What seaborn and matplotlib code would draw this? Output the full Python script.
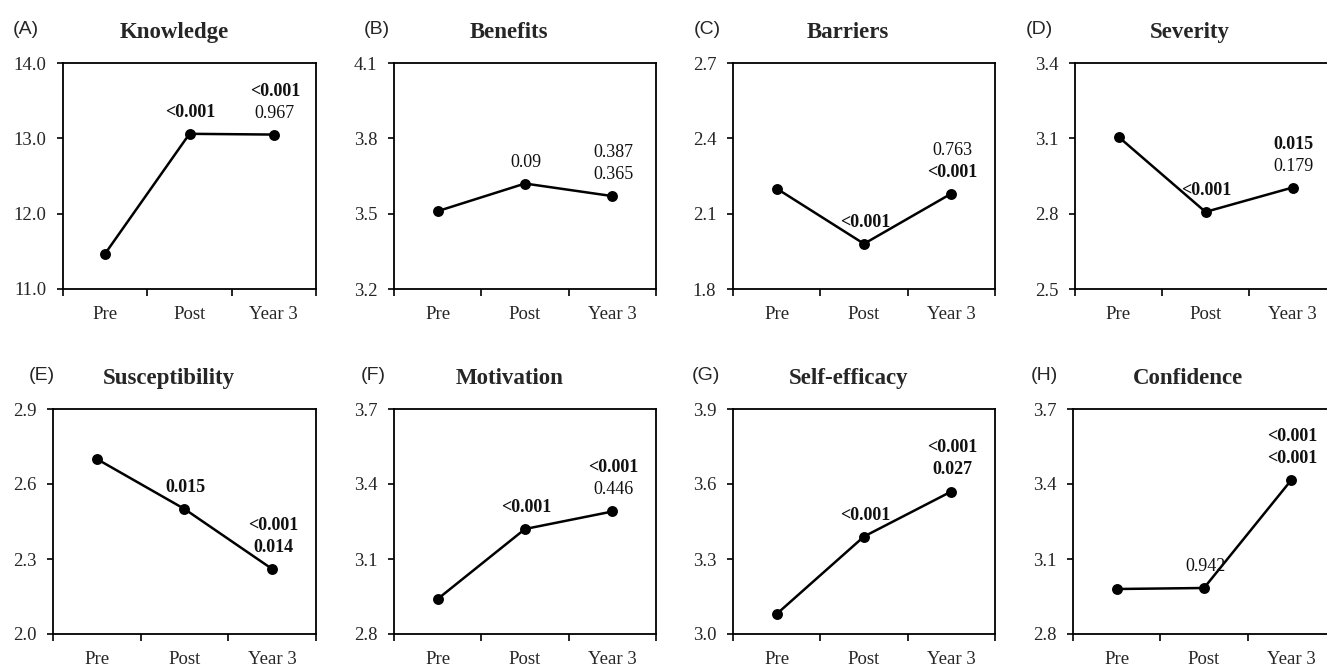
import pandas as pd
import matplotlib
matplotlib.use("Agg")
import matplotlib.pyplot as plt
import seaborn as sns

sns.set_theme(style="white")
plt.rcParams["font.family"] = ["Liberation Serif", "DejaVu Serif"]

timepoints = ["Pre", "Post", "Year 3"]
panel_tags = ["(A)", "(B)", "(C)", "(D)", "(E)", "(F)", "(G)", "(H)"]
titles = ["Knowledge", "Benefits", "Barriers", "Severity",
          "Susceptibility", "Motivation", "Self-efficacy", "Confidence"]

knowledge = [11.47, 13.06, 13.05]
benefits = [3.51, 3.62, 3.57]
barriers = [2.20, 1.98, 2.18]
severity = [3.106, 2.807, 2.904]
susceptibility = [2.70, 2.50, 2.26]
motivation = [2.94, 3.22, 3.29]
self_efficacy = [3.08, 3.39, 3.57]
confidence = [2.98, 2.984, 3.416]

y_ranges = [(11.0, 14.0, 1.0), (3.2, 4.1, 0.3), (1.8, 2.7, 0.3), (2.5, 3.4, 0.3),
            (2.0, 2.9, 0.3), (2.8, 3.7, 0.3), (3.0, 3.9, 0.3), (2.8, 3.7, 0.3)]

# p-value labels at Post and Year 3: list of (text, bold) lines
post_p = [
    [("<0.001", True)],
    [("0.09", False)],
    [("<0.001", True)],
    [("<0.001", True)],
    [("0.015", True)],
    [("<0.001", True)],
    [("<0.001", True)],
    [("0.942", False)],
]
year3_p = [
    [("<0.001", True), ("0.967", False)],
    [("0.387", False), ("0.365", False)],
    [("0.763", False), ("<0.001", True)],
    [("0.015", True), ("0.179", False)],
    [("<0.001", True), ("0.014", True)],
    [("<0.001", True), ("0.446", False)],
    [("<0.001", True), ("0.027", True)],
    [("<0.001", True), ("<0.001", True)],
]

series = [knowledge, benefits, barriers, severity,
          susceptibility, motivation, self_efficacy, confidence]

W, H = 1327, 668
fig = plt.figure(figsize=(W / 100, H / 100), dpi=100)

lefts_top = [63, 394, 733, 1075]
lefts_bot = [53, 394, 733, 1073]
widths_top = [253, 262, 262, 261]
widths_bot = [263, 262, 262, 262]
tag_x_top = [13, 364, 694, 1026]
tag_x_bot = [29, 361, 692, 1031]


def add_label(ax, x, y, lines, dy):
    # stack lines upward from the point, bottom line first
    n = len(lines)
    for k, (txt, bold) in enumerate(lines):
        offset = dy + (n - 1 - k) * 22
        ax.annotate(txt, (x, y), xytext=(1, offset), textcoords="offset pixels",
                    ha="center", va="bottom", fontsize=13,
                    fontweight="bold" if bold else "normal", color="#111111")


for i in range(8):
    row, col = divmod(i, 4)
    if row == 0:
        left, width, top, bottom = lefts_top[col], widths_top[col], 63, 289
        tag_x = tag_x_top[col]
    else:
        left, width, top, bottom = lefts_bot[col], widths_bot[col], 409, 634
        tag_x = tag_x_bot[col]
    ax = fig.add_axes([left / W, 1 - bottom / H, width / W, (bottom - top) / H])

    df = pd.DataFrame({"time": timepoints, "score": series[i]})
    sns.pointplot(data=df, x="time", y="score", color="black", markers="o",
                  markersize=6.5, linewidth=1.8, ax=ax)

    lo, hi, step = y_ranges[i]
    ax.set_ylim(lo, hi)
    nt = int(round((hi - lo) / step)) + 1
    ax.set_yticks([lo + step * k for k in range(nt)])
    ax.set_yticklabels([f"{lo + step * k:.1f}" for k in range(nt)])
    ax.set_xlim(-0.5, 2.5)
    ax.set_xticks([0, 1, 2])
    ax.set_xticklabels(timepoints)
    ax.set_xticks([-0.5, 0.5, 1.5, 2.5], minor=True)
    ax.tick_params(axis="x", which="major", length=0, labelsize=13.5, pad=12)
    ax.tick_params(axis="x", which="minor", length=5, width=1.2, direction="out",
                   bottom=True, color="black")
    ax.tick_params(axis="y", length=4, width=1.2, direction="out", left=True,
                   labelsize=13.5, pad=8, color="black")
    ax.set_xlabel("")
    ax.set_ylabel("")
    for s in ax.spines.values():
        s.set_color("black")
        s.set_linewidth(1.3)

    ax.set_title(titles[i], x=0.44, y=1.0, pad=18, fontsize=16.5, fontweight="bold")
    fig.text(tag_x / W, 1 - (top - 34) / H, panel_tags[i], fontsize=14,
             family=["Liberation Sans", "DejaVu Sans"], va="center", ha="left")

    add_label(ax, 1, series[i][1], post_p[i], 13)
    add_label(ax, 2, series[i][2], year3_p[i], 13)

fig.savefig("out.png", dpi=100)
